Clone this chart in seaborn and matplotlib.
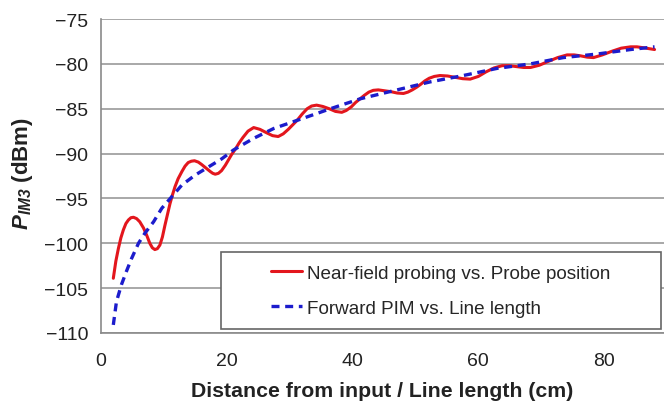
import matplotlib
matplotlib.use('Agg')
import matplotlib.pyplot as plt
from matplotlib.patches import Rectangle
import seaborn as sns
import pandas as pd

# red: near-field probing
probe_pos = [2.0, 2.4, 2.8, 3.2, 3.6, 4.0, 4.4, 4.8, 5.2, 5.7, 6.2, 6.8, 7.3, 7.8,
             8.2, 8.6, 9.0, 9.4, 9.8, 10.2, 10.6, 11.0, 11.4, 11.8, 12.3, 12.9,
             13.4, 13.9, 14.4, 14.9, 15.5, 16.0, 16.7, 17.4, 17.8, 18.2, 18.7,
             19.2, 19.8, 20.3, 20.8, 21.4, 22.0, 22.6, 23.4, 24.3, 25.3, 26.4,
             27.3, 28.2, 29.0, 29.8, 30.5, 31.2, 32.0, 32.8, 33.5, 34.3, 35.3,
             36.3, 37.3, 38.3, 39.0, 39.8, 40.5, 41.2, 41.9, 42.6, 43.3, 44.1,
             45.1, 46.1, 47.1, 48.1, 48.8, 49.5, 50.2, 50.8, 51.5, 52.2, 53.0,
             53.9, 55.1, 56.3, 57.5, 58.7, 60.0, 61.2, 62.5, 63.8, 64.9, 66.0,
             67.2, 68.3, 69.7, 71.2, 72.6, 74.1, 75.2, 76.2, 77.3, 78.3, 79.7,
             81.2, 82.7, 84.2, 85.2, 86.2, 87.1, 88.0]
probe_pim = [-103.9, -102.0, -100.6, -99.4, -98.5, -97.8, -97.4, -97.15, -97.1,
             -97.25, -97.6, -98.3, -99.1, -100.0, -100.5, -100.7, -100.6, -100.2,
             -99.3, -98.0, -96.8, -95.6, -94.6, -93.7, -92.8, -92.0, -91.4, -91.0,
             -90.85, -90.8, -90.95, -91.2, -91.6, -92.0, -92.2, -92.3, -92.2,
             -91.9, -91.3, -90.7, -90.1, -89.5, -88.8, -88.2, -87.5, -87.1, -87.3,
             -87.7, -88.0, -88.1, -87.8, -87.3, -86.8, -86.3, -85.6, -85.0, -84.7,
             -84.6, -84.75, -85.0, -85.3, -85.4, -85.2, -84.8, -84.3, -83.9,
             -83.5, -83.15, -82.95, -82.9, -83.0, -83.1, -83.25, -83.3, -83.15,
             -82.9, -82.6, -82.3, -81.9, -81.6, -81.4, -81.3, -81.35, -81.5,
             -81.65, -81.7, -81.4, -80.9, -80.45, -80.2, -80.2, -80.3, -80.4,
             -80.4, -80.15, -79.7, -79.3, -79.0, -79.0, -79.1, -79.25, -79.3,
             -79.0, -78.6, -78.25, -78.1, -78.1, -78.2, -78.3, -78.4]

# blue: forward PIM vs line length
line_len = [2.0, 2.5, 3.3, 4.1, 4.9, 6.0, 7.0, 8.4, 9.7, 11.3, 12.9, 15.0, 17.1,
            19.2, 21.1, 24.3, 27.5, 31.2, 36.5, 41.2, 46.5, 52.4, 57.6, 63.0,
            68.3, 73.5, 78.9, 84.2, 88.0]
line_pim = [-109.1, -106.5, -104.6, -103.1, -101.7, -100.0, -98.9, -97.6, -96.1,
            -94.8, -93.5, -92.4, -91.5, -90.6, -89.6, -88.3, -87.2, -86.3, -85.0,
            -83.9, -83.0, -82.0, -81.3, -80.5, -80.0, -79.3, -78.9, -78.4, -78.1]

labels = ['Near-field probing vs. Probe position', 'Forward PIM vs. Line length']

sns.set_theme(style='white')
plt.rcParams['font.family'] = ['Liberation Sans', 'DejaVu Sans']
plt.rcParams['mathtext.fontset'] = 'custom'
plt.rcParams['mathtext.bfit'] = 'Liberation Sans:italic:bold'
plt.rcParams['mathtext.rm'] = 'Liberation Sans'

fig = plt.figure(figsize=(6.64, 4.02), dpi=100)
ax = fig.add_axes([0.1517, 0.1692, 0.8483, 0.781])

red = pd.DataFrame({'x': probe_pos, 'y': probe_pim})
blue = pd.DataFrame({'x': line_len, 'y': line_pim})
sns.lineplot(data=red, x='x', y='y', ax=ax, color='#e3161d', lw=2.2,
             estimator=None, sort=False, label=labels[0], zorder=3)
sns.lineplot(data=blue, x='x', y='y', ax=ax, color='#1c1ccc', lw=2.4,
             estimator=None, sort=False, label=labels[1], zorder=4)
ax.lines[1].set_dashes((2.4, 1.7))
ax.lines[1].set_dash_capstyle('butt')

ax.set_xlim(0, 89.5)
ax.set_ylim(-110, -75)
ax.set_xticks([0, 20, 40, 60, 80])
ax.set_yticks(range(-110, -74, 5))
ax.yaxis.grid(True, color='#9a9a9a', lw=1.2)
ax.set_axisbelow(True)
for s in ['top', 'right']:
    ax.spines[s].set_visible(False)
for s in ['left', 'bottom']:
    ax.spines[s].set_color('#8a8a8a')
    ax.spines[s].set_linewidth(1.2)
ax.tick_params(axis='both', direction='out', length=5, width=1.2, color='#8a8a8a',
               labelsize=14, labelcolor='#222222')
ax.tick_params(axis='x', pad=9)
ax.tick_params(axis='y', pad=4)

ax.set_xlabel('Distance from input / Line length (cm)', fontsize=15.3,
              fontweight='bold', color='#222222', labelpad=8)
ax.set_ylabel(r'$\mathbfit{P}_{\mathbfit{IM3}}$ (dBm)', fontsize=16,
              fontweight='bold', color='#222222')
ax.yaxis.set_label_coords(-0.117, 0.511)

# legend box is wider than its contents, so draw the frame separately
ax.add_patch(Rectangle((0.213, 0.013), 0.782, 0.244, transform=ax.transAxes,
                       facecolor='white', edgecolor='#666666', lw=1.2, zorder=5))
leg = ax.legend(loc='center', bbox_to_anchor=(0.604, 0.135), frameon=False,
                fontsize=13.6, handlelength=1.6, handletextpad=0.3,
                labelspacing=0.95)
leg.set_zorder(6)

fig.savefig('out.png', dpi=100)
